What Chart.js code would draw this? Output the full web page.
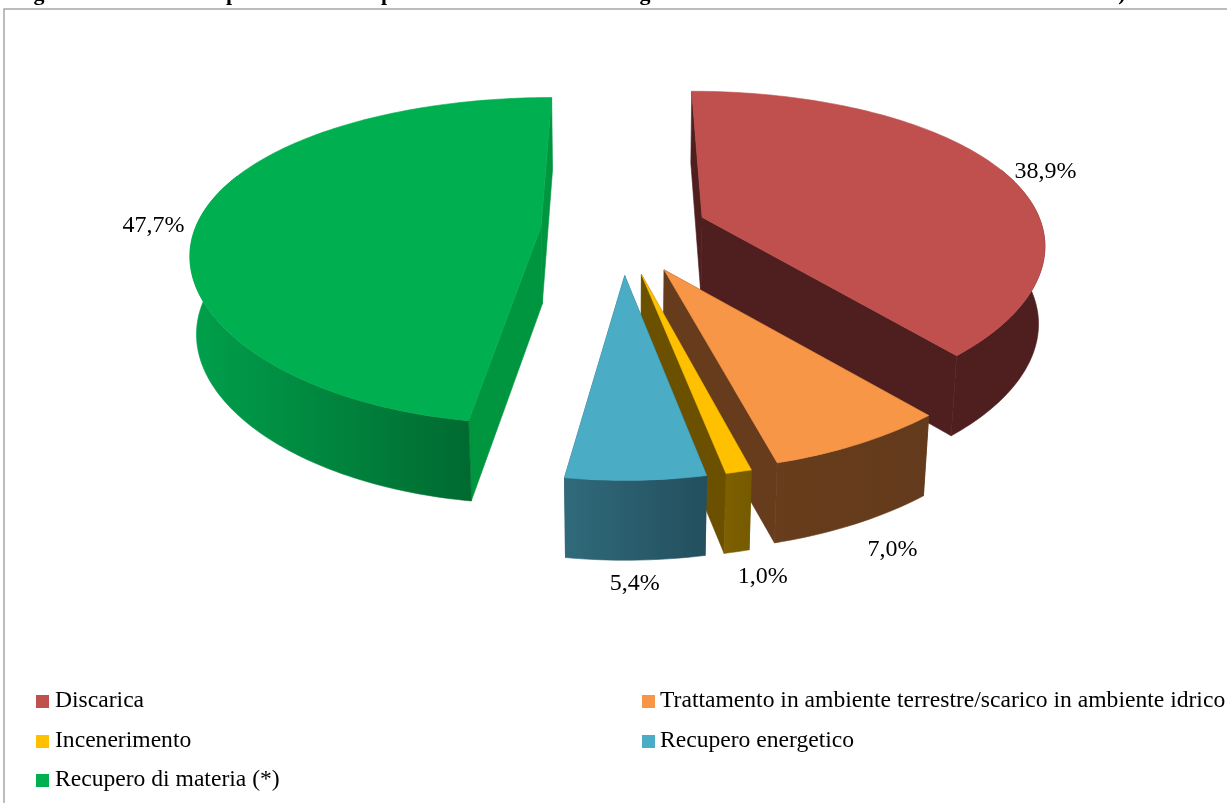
<!DOCTYPE html>
<html><head><meta charset="utf-8">
<script src="https://cdn.jsdelivr.net/npm/chart.js@4"></script>
<style>html,body{margin:0;padding:0;background:#fff;overflow:hidden}canvas{display:block}</style>
</head><body><canvas id="c" width="1227" height="803"></canvas>
<script>
const categories = ['Discarica','Trattamento in ambiente terrestre/scarico in ambiente idrico','Incenerimento','Recupero energetico','Recupero di materia (*)'];
const shares = [38.9,7.0,1.0,5.4,47.7];
const topColors = ['#C0504D','#F79646','#FFC000','#4BACC6','#00B050'];
const faceColors = ['#4F1F1F','#663C1C','#6B5000','#255565','#00953F'];
const wallLeft = ['#4F1F1F','#673D1C','#7E6000','#306A7A','#00A04C'];
const wallRight = ['#4F1F1F','#633A1B','#765A00','#234F5E','#006A30'];
const explode = [47,60,60,60,47];
const explodeFitU = [1.06,0.85,0.8,1,1];
const explodeShiftV = [0.024,0,0,0,0.02];
const rimFitU = [0.985,1,1,1,1];
const rimFitV = [1,0.92,0.92,0.92,1];
const labelNudge = [[46,3],[33,106],[24,105],[-1,103],[-48,10]];
const clippedTitle = [['g',39],['p',232],['p',387],['g',645],[')',1122]];
const legendCols = [36,642], legendRows = [701,741,780];
const FONT = '"Liberation Serif"';
const CAM = {cx:622,y0:226,A:345,B:155.6,ky:0.208,kx:0.15,my:0.07,mx:0.015,h:83};

function proj(U,V,z){
  const sy = 1/(1-CAM.ky*V+CAM.my*z), sx = 1/(1-CAM.kx*V+CAM.mx*z);
  return {x:CAM.cx+CAM.A*U*sx, y:CAM.y0+(CAM.B*V+CAM.h*z)*sy};
}
function fillPoly(ctx,pts,style){
  ctx.beginPath();
  pts.forEach((p,i)=> i?ctx.lineTo(p.x,p.y):ctx.moveTo(p.x,p.y));
  ctx.closePath();
  ctx.fillStyle=style; ctx.strokeStyle=style; ctx.lineWidth=0.6;
  ctx.fill(); ctx.stroke();
}
const pie3d = {
  id:'pie3d',
  beforeDraw(chart){
    const ctx = chart.ctx;
    ctx.save();
    ctx.strokeStyle='#A6A6A6'; ctx.lineWidth=1.5;
    ctx.beginPath(); ctx.moveTo(4,803); ctx.lineTo(4,9); ctx.lineTo(1227,9); ctx.stroke();
    ctx.font='bold 22px '+FONT; ctx.fillStyle='#000'; ctx.textAlign='center'; ctx.textBaseline='alphabetic';
    ctx.beginPath(); ctx.rect(0,0,1227,7); ctx.clip();
    clippedTitle.forEach(([t,x])=>ctx.fillText(t,x,0));
    ctx.restore();
  },
  beforeDatasetsDraw(chart){
    const ctx = chart.ctx, meta = chart.getDatasetMeta(0);
    const items = meta.data.map((el,i)=>{
      const {startAngle,endAngle,outerRadius} = el.getProps(['startAngle','endAngle','outerRadius'],true);
      const mid = (startAngle+endAngle)/2, E = el.options.offset/outerRadius;
      return {i,startAngle,endAngle,mid,ou:E*Math.cos(mid)*explodeFitU[i],ov:E*Math.sin(mid)+explodeShiftV[i]};
    }).sort((a,b)=>Math.sin(a.mid)-Math.sin(b.mid));
    items.forEach(it=>{
      const {i,startAngle:a0,endAngle:a1,ou,ov} = it;
      const n = Math.max(4,Math.ceil((a1-a0)/0.02));
      const at = (a,z)=>proj(ou+rimFitU[i]*Math.cos(a),ov+rimFitV[i]*Math.sin(a),z);
      const top=[], wallTop=[], wallBot=[];
      for(let j=0;j<=n;j++){
        const a=a0+(a1-a0)*j/n;
        top.push(at(a,0));
        if(Math.sin(a)>-0.35){wallTop.push(at(a,0));wallBot.push(at(a,1));}
      }
      const ap0 = proj(ou,ov,0), ap1 = proj(ou,ov,1);
      fillPoly(ctx,[ap0,at(a0,0),at(a0,1),ap1],faceColors[i]);
      fillPoly(ctx,[ap0,at(a1,0),at(a1,1),ap1],faceColors[i]);
      const xs = wallTop.concat(wallBot).map(p=>p.x);
      const g = ctx.createLinearGradient(Math.min(...xs),0,Math.max(...xs),0);
      g.addColorStop(0,wallLeft[i]); g.addColorStop(1,wallRight[i]);
      fillPoly(ctx,wallTop.concat(wallBot.slice().reverse()),g);
      fillPoly(ctx,[ap0].concat(top),topColors[i]);
      const p = at(it.mid,0);
      it.lab = {x:p.x+labelNudge[i][0],y:p.y+labelNudge[i][1],t:shares[i].toFixed(1).replace('.',',')+'%'};
    });
    ctx.save();
    ctx.font='24px '+FONT; ctx.fillStyle='#000'; ctx.textAlign='center'; ctx.textBaseline='middle';
    items.forEach(it=>ctx.fillText(it.lab.t,it.lab.x,it.lab.y));
    ctx.restore();
    return false;
  },
  afterDraw(chart){
    const ctx = chart.ctx;
    const leg = chart.options.plugins.legend.labels.generateLabels(chart);
    ctx.save();
    ctx.font='23.6px '+FONT; ctx.textAlign='left'; ctx.textBaseline='middle';
    leg.forEach((l,i)=>{
      const x = legendCols[i%2], y = legendRows[Math.floor(i/2)];
      ctx.fillStyle = l.fillStyle; ctx.fillRect(x,y-6,13,13);
      ctx.fillStyle = '#000'; ctx.fillText(l.text,x+(i%2?18:19),y);
    });
    ctx.restore();
  }
};
new Chart(document.getElementById('c'),{
  type:'pie',
  data:{labels:categories,datasets:[{data:shares,backgroundColor:topColors,borderWidth:0,offset:explode,radius:200}]},
  options:{responsive:false,animation:false,
    plugins:{legend:{display:false},tooltip:{enabled:false}}},
  plugins:[pie3d]
});
</script></body></html>
